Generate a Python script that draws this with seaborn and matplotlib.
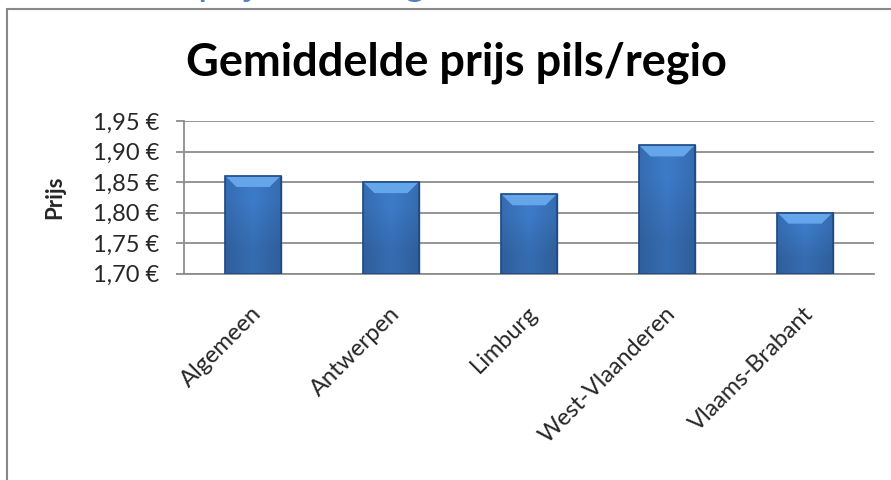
import numpy as np
import pandas as pd
import seaborn as sns
import matplotlib.pyplot as plt
from matplotlib.patches import Polygon, Rectangle
from matplotlib.ticker import FuncFormatter, MultipleLocator
from matplotlib.transforms import ScaledTranslation

# data
regio = ['Algemeen', 'Antwerpen', 'Limburg', 'West-Vlaanderen', 'Vlaams-Brabant']
prijs = [1.86, 1.85, 1.83, 1.91, 1.80]

df = pd.DataFrame({'Regio': regio, 'Prijs': prijs})

sns.set_style('white')
plt.rcParams['font.family'] = ['Lato', 'DejaVu Sans']

fig = plt.figure(figsize=(8.91, 4.8), dpi=100)
ax = fig.add_axes([184/891, 1 - 273.7/480, (874 - 184)/891, (273.7 - 121)/480])

sns.barplot(data=df, x='Regio', y='Prijs', ax=ax, color='#3a78c6',
            width=0.4, edgecolor='#24508c', linewidth=1.0, zorder=3)

ymin, ymax = 1.70, 1.95
ax.set_ylim(ymin, ymax)
ax.set_xlim(-0.5, len(regio) - 0.5)
ax.yaxis.set_major_locator(MultipleLocator(0.05))
ax.yaxis.set_major_formatter(FuncFormatter(lambda v, p: f'{v:.2f} €'.replace('.', ',')))

# gridlines and axis look
ax.grid(axis='y', color='#8c8c8c', lw=1.3, zorder=0)
for s in ['top', 'right']:
    ax.spines[s].set_visible(False)
for s in ['left', 'bottom']:
    ax.spines[s].set_color('#8c8c8c')
    ax.spines[s].set_linewidth(1.3)
ax.tick_params(axis='y', length=6, width=1.3, color='#8c8c8c', labelsize=17, pad=12, left=True)
ax.tick_params(axis='x', length=0, labelsize=17, pad=21)
shift = ScaledTranslation(-2/100, 0, fig.dpi_scale_trans)
for lab in ax.get_xticklabels():
    lab.set_rotation(45)
    lab.set_ha('right')
    lab.set_rotation_mode('anchor')
    lab.set_transform(lab.get_transform() + shift)

ax.set_xlabel('')
ax.set_ylabel('Prijs', fontsize=16, fontweight='bold', labelpad=20)

# bevel/gradient look on the bars
grad = np.linspace(0, 1, 64)
shade = 1 - 0.12 * np.abs(grad - 0.5) * 2
img = np.ones((2, 64, 3))
base = np.array([0x3d, 0x7b, 0xc9]) / 255
for i in range(2):
    img[i] = base[None, :] * shade[:, None]
img[0] *= 0.88
bw = 0.08
bh = 11 / 30.5 * 0.05
for p in ax.patches:
    x0 = p.get_x()
    w = p.get_width()
    top = p.get_height()
    im = ax.imshow(img, extent=[x0, x0 + w, ymin, top], aspect='auto', zorder=3.5,
                   interpolation='bilinear', origin='lower')
    im.set_clip_path(p)
    bev = Polygon([[x0, top], [x0 + w, top], [x0 + w - bw, top - bh], [x0 + bw, top - bh]],
                  closed=True, facecolor='#65a5ea', edgecolor='none', zorder=4)
    ax.add_patch(bev)
    ax.add_patch(Rectangle((x0, ymin), w, top - ymin, fill=False,
                           edgecolor='#1f4a85', lw=1.2, zorder=4.5))
ax.set_xlim(-0.5, len(regio) - 0.5)
ax.set_ylim(ymin, ymax)

fig.text(0.512, 1 - 76/480, 'Gemiddelde prijs pils/regio', ha='center', va='baseline',
         fontsize=32.5, fontweight='bold', color='black')

# chart frame and cut-off heading above it
fig.add_artist(Rectangle((7/891, -0.1), 1.2, 1 - 9/480 + 0.1, transform=fig.transFigure,
                         fill=False, edgecolor='#888888', lw=1.5))
fig.text(198/891, 1.011, 'prijs bier/regio', ha='left', va='baseline',
         fontsize=29, color='#4f81bd')

fig.savefig('out.png', dpi=100)
